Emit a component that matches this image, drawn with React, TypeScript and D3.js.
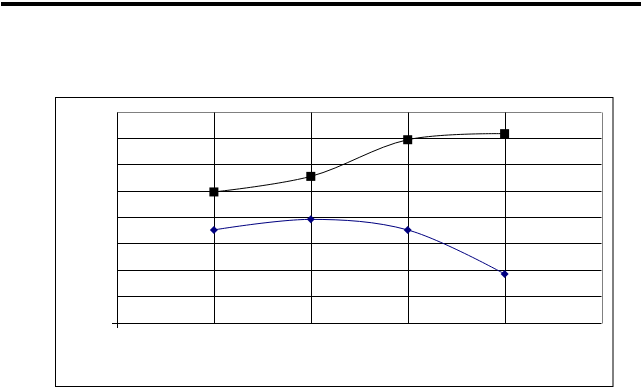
import React from "react";
import * as d3 from "d3";

const categories = ["", "1", "2", "3", "4", ""];
const seriesSquares: (number | null)[] = [null, 4.95, 5.54, 6.93, 7.16, null];
const seriesDiamonds: (number | null)[] = [null, 3.51, 3.91, 3.51, 1.84, null];
const yTicks = [0, 1, 2, 3, 4, 5, 6, 7, 8];

const W = 643;
const H = 388;
const plot = { left: 117, right: 601.5, top: 111.5, bottom: 322.5 };

export default function App() {
  const x = d3
    .scalePoint<string>()
    .domain(categories.map((c, i) => String(i)))
    .range([plot.left, plot.right]);
  const y = d3.scaleLinear().domain([0, 8]).range([plot.bottom, plot.top]);

  const mkPts = (vals: (number | null)[]) =>
    vals
      .map((v, i) => (v == null ? null : ([x(String(i))!, y(v)] as [number, number])))
      .filter((p): p is [number, number] => p !== null);

  const sq = mkPts(seriesSquares);
  const di = mkPts(seriesDiamonds);
  const line = d3.line<[number, number]>().curve(d3.curveCatmullRom.alpha(0.5));

  return (
    <svg
      width={W}
      height={H}
      style={{ position: "absolute", left: 0, top: 0, background: "#fff" }}
    >
      <rect x={1} y={2} width={640} height={4} fill="#000" />
      <rect x={55.5} y={97.5} width={557.5} height={289} fill="none" stroke="#000" strokeWidth={1} />
      {/* horizontal gridlines */}
      {yTicks.map((t) => (
        <line
          key={"h" + t}
          x1={plot.left}
          x2={plot.right}
          y1={Math.round(y(t)) + 0.5}
          y2={Math.round(y(t)) + 0.5}
          stroke={t === 8 ? "#808080" : "#000"}
          strokeWidth={1}
        />
      ))}
      {/* vertical gridlines */}
      {categories.map((c, i) => {
        const xx = Math.round(x(String(i))!) + 0.5;
        return (
          <line
            key={"v" + i}
            x1={xx}
            x2={xx}
            y1={Math.round(y(8)) + 0.5}
            y2={Math.round(y(0)) + 0.5}
            stroke={i === categories.length - 1 ? "#808080" : "#000"}
            strokeWidth={1}
          />
        );
      })}
      {/* axes ticks */}
      <line x1={112} x2={117.5} y1={Math.round(y(0)) + 0.5} y2={Math.round(y(0)) + 0.5} stroke="#000" />
      <line x1={117.5} x2={117.5} y1={Math.round(y(0))} y2={Math.round(y(0)) + 5} stroke="#000" />
      {/* series lines */}
      <path d={line(sq) || ""} fill="none" stroke="#000" strokeWidth={1} />
      <path d={line(di) || ""} fill="none" stroke="#000080" strokeWidth={1} />
      {sq.map(([px, py], i) => (
        <rect key={"s" + i} x={px - 4.5} y={py - 4.5} width={9} height={9} fill="#000" />
      ))}
      {di.map(([px, py], i) => (
        <path
          key={"d" + i}
          d={`M${px},${py - 4}L${px + 4},${py}L${px},${py + 4}L${px - 4},${py}Z`}
          fill="#000080"
        />
      ))}
    </svg>
  );
}
